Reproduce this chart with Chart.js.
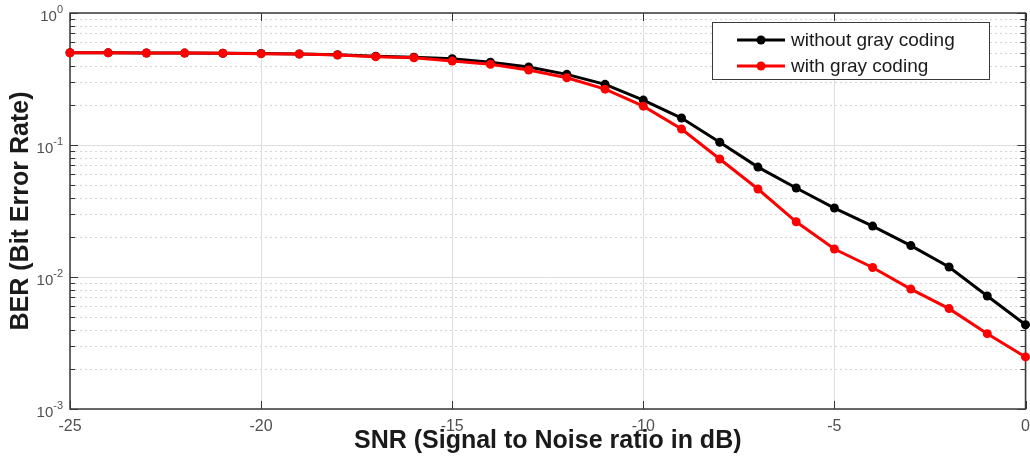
<!DOCTYPE html>
<html>
<head>
<meta charset="utf-8">
<title>BER vs SNR</title>
<script src="https://cdn.jsdelivr.net/npm/chart.js@4.4.1/dist/chart.umd.min.js"></script>
<style>
  html, body { margin: 0; padding: 0; background: #ffffff; }
  #wrap { width: 1030px; height: 458px; position: relative; }
</style>
</head>
<body>
<div id="wrap"><canvas id="berChart"></canvas></div>
<script>
// SNR sweep in dB
const snrDb = [-25, -24, -23, -22, -21, -20, -19, -18, -17, -16, -15, -14, -13,
               -12, -11, -10, -9, -8, -7, -6, -5, -4, -3, -2, -1, 0];

// Bit error rate without gray coding
const berWithoutGray = [0.500, 0.499, 0.498, 0.497, 0.496, 0.493, 0.490, 0.483, 0.470, 0.462,
                        0.451, 0.424, 0.390, 0.343, 0.288, 0.219, 0.160, 0.105, 0.068, 0.0472,
                        0.0333, 0.0243, 0.0173, 0.0119, 0.00718, 0.00435];

// Bit error rate with gray coding
const berWithGray = [0.500, 0.499, 0.498, 0.497, 0.496, 0.492, 0.489, 0.481, 0.467, 0.458,
                     0.433, 0.409, 0.370, 0.323, 0.265, 0.197, 0.132, 0.0783, 0.0464, 0.0262,
                     0.0163, 0.0118, 0.0081, 0.00576, 0.00372, 0.00248];

const seriesNames = ['without gray coding', 'with gray coding'];
const seriesColors = ['#000000', '#ff0000'];

// axis ticks
const snrTicks = [-25, -20, -15, -10, -5, 0];
const berExponents = [0, -1, -2, -3];

const axisTitleX = 'SNR (Signal to Noise ratio in dB)';
const axisTitleY = 'BER (Bit Error Rate)';

const FONT = '"Liberation Sans", Arial, Helvetica, sans-serif';

function toPoints(xs, ys) {
  return xs.map((x, i) => ({ x: x, y: ys[i] }));
}

// Grid, box, inward ticks, tick labels and axis titles
const axesDecor = {
  id: 'axesDecor',
  beforeDatasetsDraw(chart) {
    const { ctx, chartArea: a, scales: { x, y } } = chart;
    ctx.save();
    // minor dotted horizontal grid
    ctx.lineWidth = 1;
    ctx.strokeStyle = '#d6d6d6';
    ctx.setLineDash([2, 3]);
    for (let e = -3; e < 0; e++) {
      for (let k = 2; k <= 9; k++) {
        const py = Math.round(y.getPixelForValue(k * Math.pow(10, e))) + 0.5;
        ctx.beginPath(); ctx.moveTo(a.left, py); ctx.lineTo(a.right, py); ctx.stroke();
      }
    }
    ctx.setLineDash([]);
    // major solid grid
    ctx.strokeStyle = '#dedede';
    berExponents.forEach(e => {
      const py = Math.round(y.getPixelForValue(Math.pow(10, e))) + 0.5;
      ctx.beginPath(); ctx.moveTo(a.left, py); ctx.lineTo(a.right, py); ctx.stroke();
    });
    snrTicks.forEach(v => {
      const px = Math.round(x.getPixelForValue(v)) + 0.5;
      ctx.beginPath(); ctx.moveTo(px, a.top); ctx.lineTo(px, a.bottom); ctx.stroke();
    });
    // inward tick marks
    ctx.strokeStyle = '#333333';
    ctx.lineWidth = 1;
    for (let e = -3; e <= 0; e++) {
      for (let k = 1; k <= 9; k++) {
        const v = k * Math.pow(10, e);
        if (v > 1.0001) break;
        const len = k === 1 ? 8 : 5;
        const py = Math.round(y.getPixelForValue(v)) + 0.5;
        ctx.beginPath();
        ctx.moveTo(a.left, py); ctx.lineTo(a.left + len, py);
        ctx.moveTo(a.right, py); ctx.lineTo(a.right - len, py);
        ctx.stroke();
      }
    }
    snrTicks.forEach(v => {
      const px = Math.round(x.getPixelForValue(v)) + 0.5;
      ctx.beginPath();
      ctx.moveTo(px, a.bottom); ctx.lineTo(px, a.bottom - 8);
      ctx.moveTo(px, a.top); ctx.lineTo(px, a.top + 8);
      ctx.stroke();
    });
    // axes box
    ctx.strokeStyle = '#3a3a3a';
    ctx.lineWidth = 1.5;
    ctx.strokeRect(a.left, a.top, a.right - a.left, a.bottom - a.top);

    // x tick labels
    ctx.fillStyle = '#505050';
    ctx.font = '16px ' + FONT;
    ctx.textAlign = 'center';
    ctx.textBaseline = 'middle';
    snrTicks.forEach(v => {
      ctx.fillText(String(v), x.getPixelForValue(v), a.bottom + 18);
    });

    // decade labels 10^e
    ctx.textAlign = 'left';
    const rightEdge = a.left - 7;
    berExponents.forEach(e => {
      const py = y.getPixelForValue(Math.pow(10, e));
      const base = '10';
      const sup = String(e);
      ctx.font = '15px ' + FONT;
      const wb = ctx.measureText(base).width;
      ctx.font = '11px ' + FONT;
      const ws = ctx.measureText(sup).width;
      const x0 = rightEdge - wb - ws;
      ctx.font = '15px ' + FONT;
      ctx.fillText(base, x0, py + 4);
      ctx.font = '11px ' + FONT;
      ctx.fillText(sup, x0 + wb, py - 3);
    });

    // axis titles
    ctx.fillStyle = '#1a1a1a';
    ctx.font = 'bold 25px ' + FONT;
    ctx.textAlign = 'center';
    ctx.textBaseline = 'middle';
    ctx.fillText(axisTitleX, (a.left + a.right) / 2, 441);
    ctx.save();
    ctx.translate(21, (a.top + a.bottom) / 2);
    ctx.rotate(-Math.PI / 2);
    ctx.fillText(axisTitleY, 0, 0);
    ctx.restore();
    ctx.restore();
  },
  afterDatasetsDraw(chart) {
    // legend box with line + marker samples
    const { ctx } = chart;
    const bx = 712, by = 22, bw = 277, bh = 57;
    ctx.save();
    ctx.fillStyle = '#ffffff';
    ctx.fillRect(bx, by, bw, bh);
    ctx.strokeStyle = '#3a3a3a';
    ctx.lineWidth = 1;
    ctx.strokeRect(bx + 0.5, by + 0.5, bw, bh);
    chart.data.datasets.forEach((ds, i) => {
      const cy = by + 18 + i * 26;
      ctx.strokeStyle = ds.borderColor;
      ctx.lineWidth = ds.borderWidth;
      ctx.beginPath(); ctx.moveTo(737, cy); ctx.lineTo(785, cy); ctx.stroke();
      ctx.fillStyle = ds.backgroundColor;
      ctx.beginPath(); ctx.arc(761, cy, ds.pointRadius, 0, Math.PI * 2); ctx.fill();
      ctx.fillStyle = '#1a1a1a';
      ctx.font = '19px ' + FONT;
      ctx.textAlign = 'left';
      ctx.textBaseline = 'middle';
      ctx.fillText(ds.label, 791, cy + 1);
    });
    ctx.restore();
  }
};

new Chart(document.getElementById('berChart'), {
  type: 'line',
  data: {
    datasets: [
      {
        label: seriesNames[0],
        data: toPoints(snrDb, berWithoutGray),
        borderColor: seriesColors[0],
        backgroundColor: seriesColors[0],
        borderWidth: 3,
        pointRadius: 4.5,
        pointBorderWidth: 0,
        pointHoverRadius: 4.5,
        tension: 0,
        clip: false,
        order: 1
      },
      {
        label: seriesNames[1],
        data: toPoints(snrDb, berWithGray),
        borderColor: seriesColors[1],
        backgroundColor: seriesColors[1],
        borderWidth: 3,
        pointRadius: 4.5,
        pointBorderWidth: 0,
        pointHoverRadius: 4.5,
        tension: 0,
        clip: false,
        order: 0
      }
    ]
  },
  options: {
    responsive: true,
    maintainAspectRatio: false,
    animation: false,
    events: [],
    layout: { padding: { left: 70, right: 4, top: 13, bottom: 49 } },
    plugins: {
      legend: { display: false },
      tooltip: { enabled: false },
      title: { display: false }
    },
    scales: {
      x: {
        type: 'linear',
        min: -25,
        max: 0,
        ticks: { display: false },
        grid: { display: false, drawTicks: false },
        border: { display: false }
      },
      y: {
        type: 'logarithmic',
        min: 0.001,
        max: 1,
        ticks: { display: false },
        grid: { display: false, drawTicks: false },
        border: { display: false }
      }
    }
  },
  plugins: [axesDecor]
});
</script>
</body>
</html>
